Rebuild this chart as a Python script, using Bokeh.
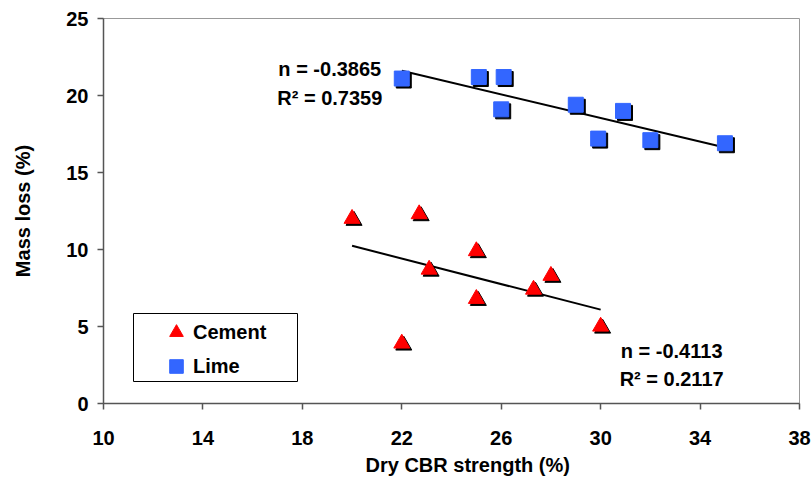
import numpy as np
from bokeh.plotting import figure
from bokeh.models import (ColumnDataSource, Range1d, FixedTicker, Legend, LegendItem,
                          Title, BoxAnnotation)
from bokeh.transform import dodge
from bokeh.core.properties import value
from bokeh.embed import file_html
from bokeh.resources import INLINE

# ---- data ----
cement_x = [20.0, 22.0, 22.7, 23.1, 25.0, 25.0, 27.3, 28.0, 30.0]
cement_y = [12.0, 3.9, 12.3, 8.7, 9.9, 6.8, 7.4, 8.3, 5.0]
lime_x = [22.0, 25.1, 26.1, 26.0, 29.0, 30.9, 29.9, 32.0, 35.0]
lime_y = [21.1, 21.2, 21.2, 19.1, 19.4, 19.0, 17.2, 17.1, 16.9]
x_ticks = [10, 14, 18, 22, 26, 30, 34, 38]
y_ticks = [0, 5, 10, 15, 20, 25]
lime_fit_text = ["n = -0.3865", "R\u00b2 = 0.7359"]
cement_fit_text = ["n = -0.4113", "R\u00b2 = 0.2117"]
series_names = ["Cement", "Lime"]
x_title = "Dry CBR strength (%)"
y_title = "Mass loss (%)"

FONT = "Liberation Sans"
FS = "20px"
RED = "#FF0000"
BLUE = "#3366FF"
AXC = "#555555"

p = figure(width=812, height=484, output_backend="svg", toolbar_location=None,
           x_range=Range1d(x_ticks[0], x_ticks[-1]), y_range=Range1d(y_ticks[0], y_ticks[-1]),
           min_border_left=103, min_border_right=13, min_border_top=18, min_border_bottom=81)
p.xgrid.visible = False
p.ygrid.visible = False
p.outline_line_color = "#999999"
p.outline_line_width = 1
p.background_fill_color = "white"
p.border_fill_color = "white"

src_c = ColumnDataSource(dict(x=cement_x, y=cement_y))
src_l = ColumnDataSource(dict(x=lime_x, y=lime_y))

# shadows (offset a couple of pixels right/down)
SH_X, SH_Y = 0.08, -0.13
p.scatter(x=dodge("x", SH_X), y=dodge("y", SH_Y), source=src_c, marker="triangle",
          size=16, fill_color="black", line_color="black")
p.scatter(x=dodge("x", SH_X), y=dodge("y", SH_Y), source=src_l, marker="square",
          size=15, fill_color="black", line_color="black")


def fit_line(xs, ys):
    k, b = np.polyfit(xs, ys, 1)
    x0, x1 = min(xs), max(xs)
    return [x0, x1], [k * x0 + b, k * x1 + b]


lx, ly = fit_line(lime_x, lime_y)
cx, cy = fit_line(cement_x, cement_y)
p.line(lx, ly, line_color="black", line_width=2)
p.line(cx, cy, line_color="black", line_width=2)

r_c = p.scatter("x", "y", source=src_c, marker="triangle", size=16,
                fill_color=RED, line_color=RED)
r_l = p.scatter("x", "y", source=src_l, marker="square", size=15,
                fill_color=BLUE, line_color=BLUE)

# equation texts anchored to trend line ends
lt = ColumnDataSource(dict(x=[lx[0]] * 2, y=[ly[0]] * 2, t=lime_fit_text,
                           xo=[-72, -72], yo=[-2, 27]))
ct = ColumnDataSource(dict(x=[cx[1]] * 2, y=[cy[1]] * 2, t=cement_fit_text,
                           xo=[71, 71], yo=[41, 69]))
for s in (lt, ct):
    p.text("x", "y", text="t", source=s, x_offset="xo", y_offset="yo",
           text_font=value(FONT), text_font_style="bold", text_font_size=FS,
           text_color="black", text_align="center", text_baseline="middle")

# axes
for ax in (p.xaxis[0], p.yaxis[0]):
    ax.major_label_text_font = FONT
    ax.major_label_text_font_style = "bold"
    ax.major_label_text_font_size = FS
    ax.major_label_text_color = "black"
    ax.axis_line_color = AXC
    ax.axis_line_width = 1.5
    ax.major_tick_line_color = AXC
    ax.major_tick_line_width = 1.5
    ax.major_tick_in = 0
    ax.major_tick_out = 6
    ax.minor_tick_line_color = None
p.xaxis.ticker = FixedTicker(ticks=x_ticks)
p.yaxis.ticker = FixedTicker(ticks=y_ticks)
p.xaxis.major_label_standoff = 21
p.yaxis.major_label_standoff = 9
p.yaxis.axis_label = y_title
p.yaxis.axis_label_standoff = 29
p.yaxis.axis_label_text_font = FONT
p.yaxis.axis_label_text_font_style = "bold"
p.yaxis.axis_label_text_font_size = FS
p.yaxis.axis_label_text_color = "black"

xt = Title(text=x_title, align="left", offset=262, standoff=8,
           text_font=FONT, text_font_style="bold", text_font_size=FS, text_color="black")
p.add_layout(xt, "below")

# legend frame + items
box = BoxAnnotation(left=133, right=297, top=313, bottom=381,
                    left_units="canvas", right_units="canvas",
                    top_units="canvas", bottom_units="canvas",
                    fill_color="white", fill_alpha=1.0,
                    line_color="black", line_alpha=1.0, line_width=1)
p.add_layout(box)

legend = Legend(items=[LegendItem(label=series_names[0], renderers=[r_c]),
                       LegendItem(label=series_names[1], renderers=[r_l])],
                location=(56, 20), margin=0, padding=0, spacing=0,
                glyph_width=34, glyph_height=34, label_standoff=0,
                label_text_font=FONT, label_text_font_style="bold", label_text_font_size=FS,
                label_text_color="black",
                border_line_alpha=0, background_fill_alpha=0)
p.add_layout(legend)

open("out.html", "w").write(file_html(p, INLINE))
